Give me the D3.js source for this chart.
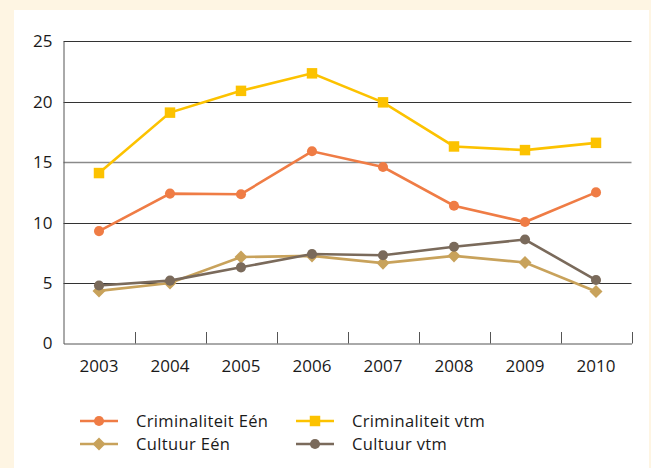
<!DOCTYPE html>
<html><head><meta charset="utf-8">
<script src="https://cdn.jsdelivr.net/npm/d3@7"></script>
<style>
html,body{margin:0;padding:0;background:#fef5e3;}
svg{display:block;}
text{font-family:"Open Sans",sans-serif;fill:#1a1a1a;}
</style></head>
<body><svg id="c" width="651" height="468"></svg>
<script>
const years = ["2003","2004","2005","2006","2007","2008","2009","2010"];
const crimEen = [9.3, 12.4, 12.35, 15.9, 14.6, 11.4, 10.05, 12.5];
const crimVtm = [14.1, 19.1, 20.9, 22.35, 19.95, 16.3, 16.0, 16.6];
const cultEen = [4.35, 5.0, 7.15, 7.25, 6.65, 7.25, 6.7, 4.3];
const cultVtm = [4.8, 5.2, 6.3, 7.4, 7.3, 8.0, 8.6, 5.25];
const yTicks = [0, 5, 10, 15, 20, 25];
const seriesNames = ["Criminaliteit Eén","Criminaliteit vtm","Cultuur Eén","Cultuur vtm"];
const colors = ["#ef7c45","#fcc200","#c8a25b","#7a6a5b"];
const symbols = [d3.symbolCircle, d3.symbolSquare, d3.symbolSquare, d3.symbolCircle];
const symRot = [0, 0, 45, 0];
const symSizes = [80, 110, 85, 80];
const seriesData = [crimEen, crimVtm, cultEen, cultVtm];

const svg = d3.select("#c");
svg.append("rect").attr("x",14).attr("y",10).attr("width",635).attr("height",458).attr("fill","#ffffff");

const x = d3.scaleBand().domain(years).range([63.5, 631.5]);
const y = d3.scaleLinear().domain([0,25]).range([343.5, 41.3]);

const g = svg.append("g");
g.selectAll("line.grid").data(yTicks.filter(d=>d>0)).enter().append("line")
  .attr("x1",63.5).attr("x2",631.5)
  .attr("y1",d=>Math.round(y(d))+0.5).attr("y2",d=>Math.round(y(d))+0.5)
  .attr("stroke",d=>d===15?"#8a8a8a":"#333").attr("stroke-width",d=>d===15?1.6:1);

const yAxis = d3.axisLeft(y).tickValues(yTicks).tickSize(0).tickPadding(11);
const ya = svg.append("g").attr("transform","translate(63.5,0)").call(yAxis);
ya.select(".domain").attr("stroke","#555");
ya.selectAll("text").attr("font-size",17).attr("font-family","Open Sans").attr("fill","#1a1a1a");

const xa = svg.append("g").attr("transform","translate(0,343.5)")
  .call(d3.axisBottom(x).tickSize(0).tickPadding(16));
xa.select(".domain").attr("stroke","#555");
xa.selectAll("text").attr("font-size",17).attr("font-family","Open Sans").attr("fill","#1a1a1a");
const bounds = years.map(d=>x(d)+x.bandwidth());
svg.selectAll("line.xt").data(bounds).enter().append("line")
  .attr("x1",d=>Math.round(d)+0.5).attr("x2",d=>Math.round(d)+0.5)
  .attr("y1",332).attr("y2",343.5).attr("stroke","#555");

const line = d3.line().x((d,i)=>x(years[i])+x.bandwidth()/2).y(d=>y(d));
const order = [2,3,0,1];
order.forEach(k=>{
  const s = svg.append("g");
  s.append("path").datum(seriesData[k]).attr("d",line).attr("fill","none")
    .attr("stroke",colors[k]).attr("stroke-width",2.6);
  s.selectAll("path.m").data(seriesData[k]).enter().append("path")
    .attr("d",d3.symbol().type(symbols[k]).size(symSizes[k]))
    .attr("transform",(d,i)=>`translate(${x(years[i])+x.bandwidth()/2},${y(d)}) rotate(${symRot[k]})`)
    .attr("fill",colors[k]);
});

const legPos = [[80,421],[296,421],[80,444],[296,444]];
[0,1,2,3].forEach((k,j)=>{
  const [lx,ly] = legPos[j];
  const lg = svg.append("g").attr("transform",`translate(${lx},${ly})`);
  lg.append("line").attr("x1",0).attr("x2",38).attr("y1",0).attr("y2",0)
    .attr("stroke",colors[k]).attr("stroke-width",2.6);
  lg.append("path").attr("d",d3.symbol().type(symbols[k]).size(symSizes[k]))
    .attr("transform",`translate(19,0) rotate(${symRot[k]})`).attr("fill",colors[k]);
  lg.append("text").attr("x",56).attr("y",0).attr("dy","0.35em")
    .attr("font-size",16.5).attr("letter-spacing",0.35).text(seriesNames[k]);
});
</script></body></html>
